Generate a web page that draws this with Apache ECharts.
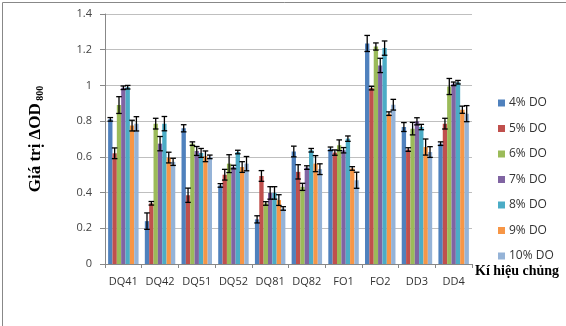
<!DOCTYPE html>
<html><head><meta charset="utf-8">
<script src="https://cdn.jsdelivr.net/npm/echarts@6/dist/echarts.min.js"></script>
<style>html,body{margin:0;padding:0;background:#fff}#c{width:566px;height:326px}</style>
</head><body><div id="c"></div>
<script>
const categories = ['DQ41','DQ42','DQ51','DQ52','DQ81','DQ82','FO1','FO2','DD3','DD4'];
const seriesNames = ['4% DO','5% DO','6% DO','7% DO','8% DO','9% DO','10% DO'];
const colors = ['#4F81BD','#C0504D','#9BBB59','#8064A2','#4BACC6','#F79646','#95B3D7'];
const do4  = [0.81,0.24,0.76,0.44,0.25,0.63,0.645,1.235,0.767,0.674];
const do5  = [0.62,0.34,0.385,0.50,0.493,0.516,0.624,0.985,0.641,0.786];
const do6  = [0.89,0.786,0.674,0.562,0.339,0.432,0.665,1.218,0.758,0.994];
const do7  = [0.987,0.674,0.633,0.543,0.398,0.54,0.637,1.112,0.799,1.009];
const do8  = [0.99,0.786,0.622,0.627,0.398,0.637,0.702,1.209,0.767,1.018];
const do9  = [0.775,0.596,0.603,0.543,0.358,0.562,0.535,0.842,0.655,0.864];
const do10 = [0.785,0.572,0.60,0.562,0.311,0.531,0.469,0.892,0.627,0.842];
const err4  = [0.01,0.046,0.02,0.01,0.02,0.03,0.01,0.045,0.025,0.01];
const err5  = [0.03,0.01,0.04,0.03,0.03,0.04,0.015,0.01,0.01,0.03];
const err6  = [0.047,0.03,0.01,0.05,0.01,0.02,0.03,0.02,0.035,0.045];
const err7  = [0.01,0.04,0.025,0.01,0.035,0.01,0.015,0.04,0.02,0.01];
const err8  = [0.01,0.04,0.025,0.01,0.035,0.01,0.015,0.04,0.015,0.01];
const err9  = [0.03,0.03,0.03,0.03,0.03,0.045,0.01,0.01,0.045,0.02];
const err10 = [0.04,0.02,0.01,0.04,0.01,0.03,0.045,0.03,0.03,0.045];
const yTicks = [0,0.2,0.4,0.6,0.8,1,1.2,1.4];

const values = [do4,do5,do6,do7,do8,do9,do10];
const errs = [err4,err5,err6,err7,err8,err9,err10];
const GAP = 0.17;
const N = values.length;

const series = values.map((v,i)=>({
  name: seriesNames[i], type:'bar', data:v,
  itemStyle:{color:colors[i]}, barGap:'0%', barCategoryGap:(GAP*100)+'%',
  emphasis:{disabled:true}
}));
const errData = [];
values.forEach((v,i)=>v.forEach((val,c)=>errData.push([c,val,errs[i][c],i])));
series.push({
  type:'custom', data:errData, encode:{x:0,y:1}, z:10, silent:true,
  renderItem:function(params,api){
    const c=api.value(0), v=api.value(1), e=api.value(2), s=api.value(3);
    const band=api.size([1,0])[0];
    const bw=band*(1-GAP)/N;
    const p=api.coord([c,v]);
    const x=p[0]+(s-(N-1)/2)*bw;
    const top=api.coord([c,v+e])[1], bot=api.coord([c,v-e])[1];
    const cap=2.8;
    const st={stroke:'#000',lineWidth:1.3};
    return {type:'group',children:[
      {type:'line',shape:{x1:x,y1:top,x2:x,y2:bot},style:st},
      {type:'line',shape:{x1:x-cap,y1:top,x2:x+cap,y2:top},style:st},
      {type:'line',shape:{x1:x-cap,y1:bot,x2:x+cap,y2:bot},style:st}
    ]};
  }
});

const chart = echarts.init(document.getElementById('c'),null,{renderer:'canvas'});
chart.setOption({
  animation:false,
  grid:{left:105,right:94,top:14,bottom:62,containLabel:false},
  legend:{data:seriesNames,orient:'vertical',left:493,top:92,itemWidth:7,itemHeight:7,itemGap:13.5,
    icon:'rect',textStyle:{fontFamily:'Open Sans',fontSize:12,color:'#333',padding:[0,0,0,-1]}},
  xAxis:{type:'category',data:categories,
    axisLine:{lineStyle:{color:'#888'}},
    axisTick:{show:true,length:4,lineStyle:{color:'#888'}},
    axisLabel:{interval:0,margin:12,fontFamily:'Open Sans',fontSize:11,color:'#333'}},
  yAxis:{type:'value',min:yTicks[0],max:yTicks[yTicks.length-1],interval:0.2,
    axisLine:{show:true,lineStyle:{color:'#888'}},
    axisTick:{show:true,length:5,lineStyle:{color:'#888'}},
    axisLabel:{margin:13,fontFamily:'Open Sans',fontSize:11,color:'#444',formatter:v=>String(+v.toFixed(1))},
    splitLine:{lineStyle:{color:'#BFBFBF'}},
    name:'{a|Giá trị ΔOD}{b| 800}',nameLocation:'middle',nameGap:60,nameRotate:90,
    nameTextStyle:{rich:{
      a:{fontFamily:'Liberation Serif',fontWeight:'bold',fontSize:17,color:'#000'},
      b:{fontFamily:'Liberation Serif',fontWeight:'bold',fontSize:10,color:'#000',padding:[8,0,0,0]}
    }}},
  series:series,
  graphic:[
    {type:'rect',left:0,top:0,shape:{width:565,height:325},style:{fill:'none',stroke:'#888',lineWidth:1},silent:true},
    {type:'text',left:475,top:264,style:{text:'Kí hiệu chủng',font:'bold 14px "Liberation Serif"',fill:'#000'}}
  ]
});
</script></body></html>
